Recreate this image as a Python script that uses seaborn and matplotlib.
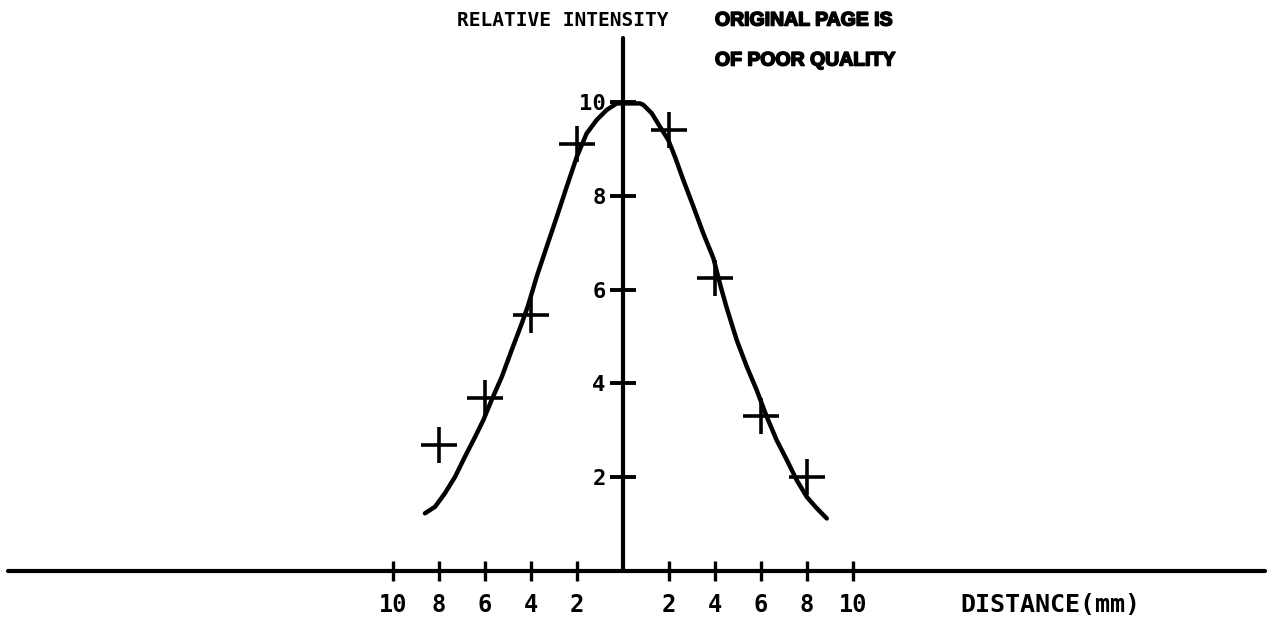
import matplotlib
matplotlib.use("Agg")
import matplotlib.pyplot as plt
import matplotlib.patheffects as pe
import seaborn as sns

# ---- data ----
cross_x = [-8, -6, -4, -2, 2, 4, 6, 8]
cross_y = [2.69, 3.69, 5.46, 9.10, 9.40, 6.25, 3.30, 2.00]

curve_x = [-8.61, -8.17, -7.74, -7.30, -6.87, -6.43, -6.07, -5.71, -5.27, -4.84,
           -4.40, -4.12, -3.75, -3.32, -2.88, -2.45, -2.01, -1.58, -1.14, -0.71,
           -0.27, 0.74, 0.88, 1.25, 1.61, 1.97, 2.26, 2.62, 3.06, 3.49,
           3.93, 4.25, 4.51, 4.94, 5.38, 5.81, 6.25, 6.68, 7.12, 7.55,
           7.99, 8.42, 8.86]
curve_y = [1.23, 1.37, 1.66, 2.01, 2.44, 2.86, 3.22, 3.65, 4.14, 4.71,
           5.28, 5.67, 6.28, 6.91, 7.55, 8.19, 8.83, 9.33, 9.62, 9.83,
           9.97, 9.97, 9.94, 9.76, 9.47, 9.19, 8.83, 8.34, 7.77, 7.20,
           6.67, 6.06, 5.61, 4.93, 4.36, 3.86, 3.29, 2.79, 2.37, 1.94,
           1.58, 1.34, 1.12]

x_ticks = [-10, -8, -6, -4, -2, 2, 4, 6, 8, 10]
x_tick_labels = ["10", "8", "6", "4", "2", "2", "4", "6", "8", "10"]
y_ticks = [2, 4, 6, 8, 10]
y_tick_labels = ["2", "4", "6", "8", "10"]

y_label = "RELATIVE INTENSITY"
x_label = "DISTANCE(mm)"
stamp_1 = "ORIGINAL PAGE IS"
stamp_2 = "OF POOR QUALITY"

# ---- style ----
sns.set_style("white")
plt.rcParams["font.family"] = ["DejaVu Sans Mono", "DejaVu Sans"]

W, H = 1273, 628
fig = plt.figure(figsize=(W / 100, H / 100), dpi=100)
ax = fig.add_axes([0, 0, 1, 1])

# pixel mapping: x_px = 623 + 23*x ; y_px = 571 - 46.9*y
x0, sx = 623.0, 23.0
y0, sy = 571.0, 46.9
ax.set_xlim(-x0 / sx, (W - x0) / sx)
ax.set_ylim((y0 - H) / sy, y0 / sy)

sns.lineplot(x=curve_x, y=curve_y, ax=ax, color="black", linewidth=3.2,
             sort=False, solid_capstyle="round", solid_joinstyle="round")
sns.scatterplot(x=cross_x, y=cross_y, ax=ax, marker="+", s=700,
                color="black", linewidth=2.6, zorder=5)

# axes through the origin
for s in ["top", "right"]:
    ax.spines[s].set_visible(False)
ax.spines["left"].set_position(("data", 0))
ax.spines["bottom"].set_position(("data", 0))
ax.spines["left"].set_bounds(0, (y0 - 38) / sy)
ax.spines["bottom"].set_bounds((8 - x0) / sx, (1265 - x0) / sx)
for s in ["left", "bottom"]:
    ax.spines[s].set_visible(True)
    ax.spines[s].set_linewidth(3.0)
    ax.spines[s].set_color("black")
    ax.spines[s].set_capstyle("round")

ax.set_xticks(x_ticks)
ax.set_xticklabels(x_tick_labels)
ax.set_yticks(y_ticks)
ax.set_yticklabels(y_tick_labels)
ax.tick_params(axis="x", bottom=True, direction="inout", length=14, width=2.4,
               color="black", pad=9, labelsize=17, labelcolor="black")
ax.tick_params(axis="y", left=True, direction="inout", length=19, width=2.8,
               color="black", pad=3, labelsize=16, labelcolor="black")
for lbl in ax.get_yticklabels() + ax.get_xticklabels():
    lbl.set_fontweight("bold")
ax.set_xlabel("")
ax.set_ylabel("")
ax.grid(False)

# texts
fig.text(563 / W, 1 - 21 / H, y_label, ha="center", va="center",
         fontsize=14, fontweight="bold", color="black")
fig.text(960 / W, 1 - 605 / H, x_label, ha="left", va="center",
         fontsize=18, fontweight="bold", color="black")
heavy = [pe.withStroke(linewidth=1.2, foreground="black")]
fig.text(715 / W, 1 - 21 / H, stamp_1, ha="left", va="center",
         fontsize=14, fontweight="bold", color="black",
         family=["Liberation Sans", "DejaVu Sans"], path_effects=heavy)
fig.text(715 / W, 1 - 61 / H, stamp_2, ha="left", va="center",
         fontsize=14, fontweight="bold", color="black",
         family=["Liberation Sans", "DejaVu Sans"], path_effects=heavy)

fig.savefig("out.png", dpi=100, facecolor="white")
